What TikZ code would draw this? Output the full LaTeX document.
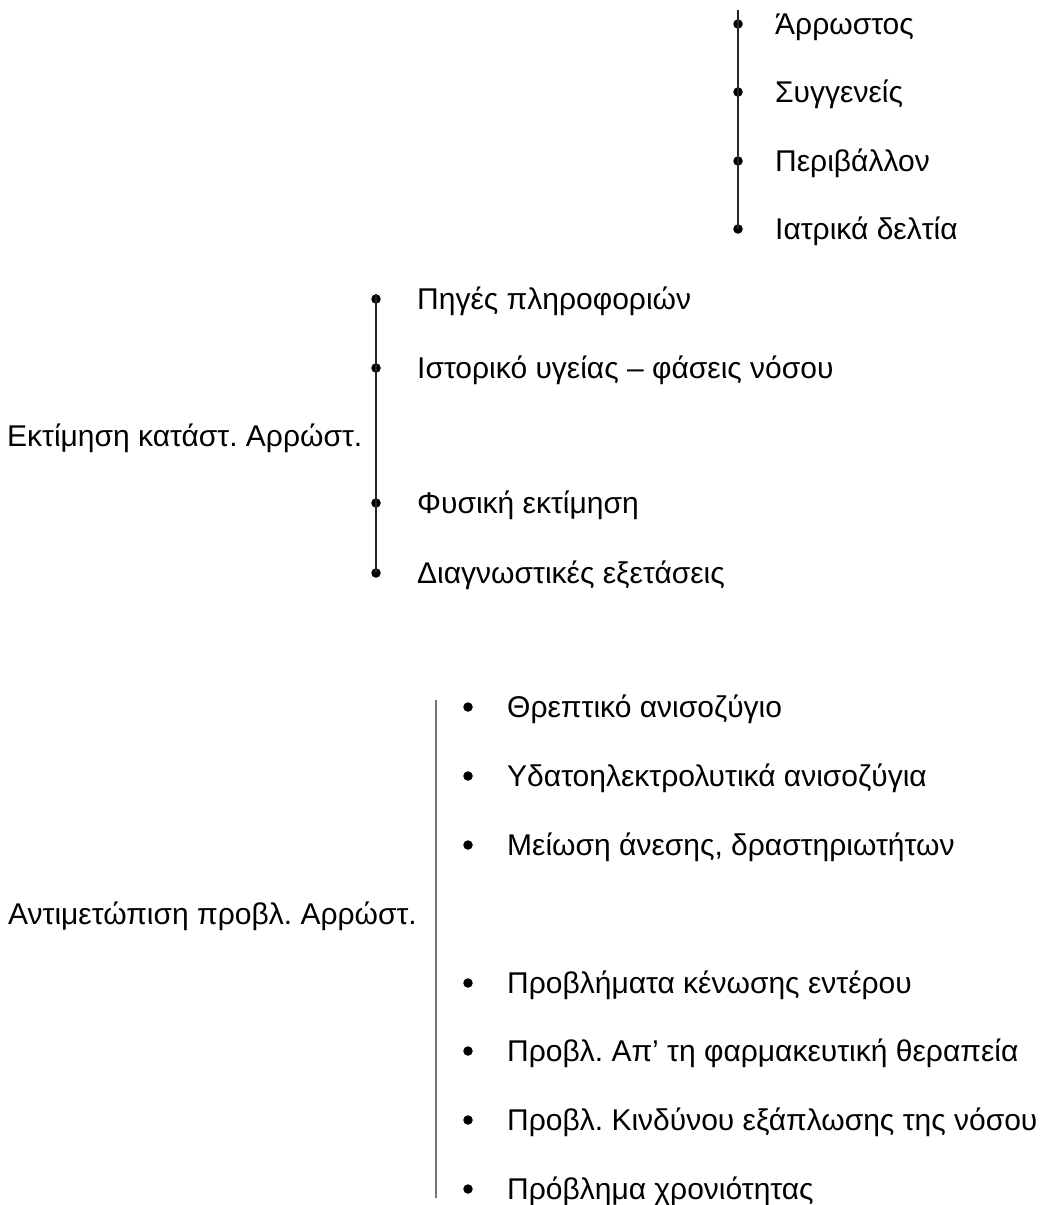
\documentclass[tikz,border=0pt]{standalone}
\usepackage{fontspec}
\setmainfont{Liberation Sans}
\begin{document}
\frenchspacing
\begin{tikzpicture}[x=1pt,y=-1pt,
  lbl/.style={anchor=base west, inner sep=0pt, font=\fontsize{30}{34}\selectfont},
  dot/.style={circle, fill=black, draw=none, inner sep=0pt, minimum size=9.5pt},
  spine/.style={line width=1.4pt, black!85},
  greyspine/.style={line width=1.3pt, black!55}]
\useasboundingbox (0,0) rectangle (1044,1205);
% ---- top group
\coordinate (ttop) at (738,10);
\node[dot] (t1) at (738,24) {};
\node[dot] (t2) at (738,92) {};
\node[dot] (t3) at (738,161) {};
\node[dot] (t4) at (738,229) {};
\draw[spine] (ttop) -- (t4.center);
\node[lbl] (tl1) at (775,34.7) {Άρρωστος};
\node[lbl] (tl2) at (775,102.7) {Συγγενείς};
\node[lbl] (tl3) at (775,171.7) {Περιβάλλον};
\node[lbl] (tl4) at (775,239.7) {Ιατρικά δελτία};
% ---- middle group
\coordinate (mtop) at (376,294);
\node[dot] (m1) at (376,299) {};
\node[dot] (m2) at (376,368) {};
\node[dot] (m3) at (376,503) {};
\node[dot] (m4) at (376,573) {};
\draw[spine] (mtop) -- (m4.center);
\node[lbl] (ml1) at (417,309.7) {Πηγές πληροφοριών};
\node[lbl] (ml2) at (417,378.7) {Ιστορικό υγείας – φάσεις νόσου};
\node[lbl] (ml3) at (417,513.7) {Φυσική εκτίμηση};
\node[lbl] (ml4) at (417,583.7) {Διαγνωστικές εξετάσεις};
\node[lbl] (mlab) at (7,446.7) {Εκτίμηση κατάστ. Αρρώστ.};
% ---- bottom group
\coordinate (btop) at (436,700);
\coordinate (bbot) at (436,1198);
\draw[greyspine] (btop) -- (bbot);
\node[dot] (b1) at (468,707) {};
\node[dot] (b2) at (468,776) {};
\node[dot] (b3) at (468,845) {};
\node[dot] (b4) at (468,983) {};
\node[dot] (b5) at (468,1051) {};
\node[dot] (b6) at (468,1120) {};
\node[dot] (b7) at (468,1189) {};
\node[lbl] (bl1) at (507,717.7) {Θρεπτικό ανισοζύγιο};
\node[lbl] (bl2) at (507,786.7) {Υδατοηλεκτρολυτικά ανισοζύγια};
\node[lbl] (bl3) at (507,855.7) {Μείωση άνεσης, δραστηριωτήτων};
\node[lbl] (bl4) at (507,993.7) {Προβλήματα κένωσης εντέρου};
\node[lbl] (bl5) at (507,1061.7) {Προβλ. Απ’ τη φαρμακευτική θεραπεία};
\node[lbl] (bl6) at (507,1130.7) {Προβλ. Κινδύνου εξάπλωσης της νόσου};
\node[lbl] (bl7) at (507,1199.7) {Πρόβλημα χρονιότητας};
\node[lbl] (blab) at (8,924.7) {Αντιμετώπιση προβλ. Αρρώστ.};
\end{tikzpicture}
\end{document}
